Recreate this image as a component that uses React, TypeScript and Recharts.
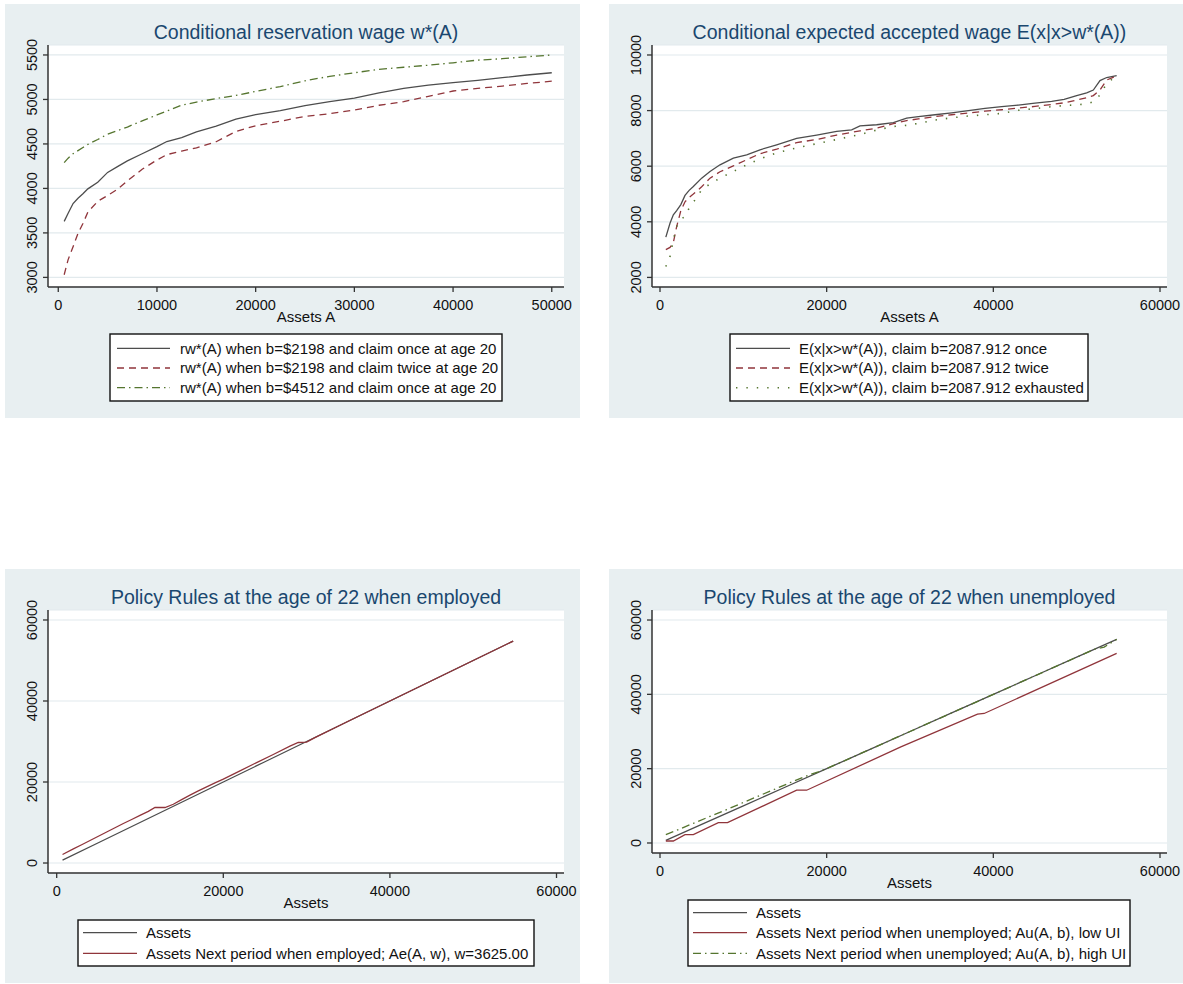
import React from 'react';
import { LineChart, Line, XAxis, YAxis, CartesianGrid } from 'recharts';

const FONT = '"Liberation Sans", Arial, Helvetica, sans-serif';
const NAVY = '#1a476f';
const PANEL_BG = '#e8eff1';
const GRID = '#e2eaed';
const AXIS = '#333333';
const DARK = '#4d4d4d';
const MAROON = '#90353b';
const GREEN = '#55752f';

// top-left: conditional reservation wage
const resAssets = [600, 1000, 1500, 2000, 2500, 3000, 4000, 5000, 6000, 7000, 8500, 10000, 11000, 12500, 14000, 16000, 18000, 20000, 22500, 25000, 27500, 30000, 32500, 35000, 37500, 40000, 42500, 45000, 47500, 50000];
const resOnce = [3630, 3720, 3830, 3890, 3940, 3995, 4070, 4180, 4245, 4310, 4390, 4470, 4527, 4572, 4635, 4700, 4780, 4830, 4875, 4930, 4975, 5015, 5075, 5125, 5160, 5190, 5215, 5245, 5275, 5300];
const resTwice = [3030, 3200, 3345, 3495, 3605, 3735, 3855, 3920, 3990, 4085, 4215, 4320, 4380, 4420, 4455, 4525, 4640, 4705, 4755, 4810, 4840, 4880, 4935, 4975, 5035, 5095, 5125, 5150, 5180, 5205];
const resHigh = [4290, 4340, 4390, 4425, 4460, 4495, 4550, 4610, 4650, 4690, 4760, 4826, 4870, 4935, 4970, 5010, 5045, 5090, 5145, 5210, 5260, 5300, 5338, 5362, 5385, 5412, 5442, 5458, 5480, 5500];

// top-right: conditional expected accepted wage
const wageAssets = [700, 1200, 1600, 2000, 2500, 3000, 3500, 4000, 5000, 6000, 7200, 8800, 10400, 12000, 14000, 16400, 18800, 21200, 23000, 24000, 26000, 28000, 29600, 31000, 33000, 35000, 37000, 39000, 41000, 43000, 45000, 47000, 48500, 50000, 51200, 52000, 52800, 53600, 54800];
const wageOnce = [3450, 3950, 4250, 4400, 4620, 4950, 5130, 5270, 5570, 5810, 6050, 6290, 6410, 6590, 6770, 7000, 7120, 7250, 7310, 7450, 7490, 7570, 7730, 7780, 7850, 7920, 8000, 8080, 8145, 8200, 8270, 8330, 8400, 8540, 8640, 8740, 9080, 9190, 9260];
const wageTwice = [3000, 3080, 3250, 3830, 4400, 4720, 4880, 5000, 5260, 5570, 5800, 6010, 6230, 6450, 6610, 6850, 6960, 7120, 7220, 7270, 7370, 7530, 7640, 7700, 7785, 7850, 7910, 7980, 8030, 8090, 8150, 8220, 8280, 8380, 8460, 8540, 8740, 9100, 9250];
const wageExhausted = [2390, 2750, 3350, 3830, 4090, 4190, 4500, 4700, 5150, 5360, 5570, 5810, 6050, 6260, 6480, 6660, 6810, 6960, 7080, 7140, 7300, 7430, 7470, 7540, 7660, 7740, 7805, 7850, 7900, 8010, 8070, 8140, 8180, 8210, 8240, 8320, 8560, 8980, 9250];

// bottom-left: policy rule when employed
const empAssetsX = [700, 5000, 10000, 15000, 20000, 25000, 30000, 35000, 40000, 45000, 50000, 54800];
const empAssetsY = [700, 5000, 10000, 15000, 20000, 25000, 30000, 35000, 40000, 45000, 50000, 54800];
const empNextX = [700, 2000, 3000, 4000, 5000, 6000, 7000, 8000, 9000, 10000, 11000, 11800, 13000, 14000, 15000, 16000, 17000, 18000, 19000, 20000, 22000, 24000, 26000, 28000, 29000, 30000, 31000, 35000, 40000, 45000, 50000, 54800];
const empNextY = [2100, 3500, 4500, 5550, 6600, 7650, 8700, 9750, 10750, 11750, 12750, 13700, 13700, 14500, 15650, 16750, 17800, 18800, 19800, 20700, 22750, 24800, 26800, 28850, 29750, 29850, 30950, 35000, 40000, 45000, 50000, 54800];

// bottom-right: policy rules when unemployed
const unAssetsX = [700, 5000, 10000, 15000, 20000, 25000, 30000, 35000, 40000, 45000, 50000, 54800];
const unAssetsY = [700, 5000, 10000, 15000, 20000, 25000, 30000, 35000, 40000, 45000, 50000, 54800];
const unLowX = [700, 1600, 3000, 4000, 7000, 8100, 16400, 17600, 28900, 38100, 38900, 54800];
const unLowY = [540, 540, 2260, 2260, 5500, 5500, 14200, 14200, 25860, 34670, 34850, 51000];
const unHighX = [700, 2000, 4000, 6000, 8000, 10000, 12000, 14000, 16000, 17500, 19000, 20000, 30000, 40000, 50000, 52200, 53300, 54800];
const unHighY = [2250, 3400, 5300, 7150, 9000, 10900, 12800, 14700, 16600, 18000, 19150, 20000, 30000, 40000, 50000, 52200, 52700, 54800];

const resTicksX = [0, 10000, 20000, 30000, 40000, 50000];
const resTicksY = [3000, 3500, 4000, 4500, 5000, 5500];
const wageTicksX = [0, 20000, 40000, 60000];
const wageTicksY = [2000, 4000, 6000, 8000, 10000];
const policyTicks = [0, 20000, 40000, 60000];

const resLegend = [
  'rw*(A) when b=$2198 and claim once at age 20',
  'rw*(A) when b=$2198 and claim twice at age 20',
  'rw*(A) when b=$4512 and claim once at age 20',
];
const wageLegend = [
  'E(x|x>w*(A)), claim b=2087.912 once',
  'E(x|x>w*(A)), claim b=2087.912 twice',
  'E(x|x>w*(A)), claim b=2087.912 exhausted',
];
const empLegend = ['Assets', 'Assets Next period when employed; Ae(A, w), w=3625.00'];
const unLegend = [
  'Assets',
  'Assets Next period when unemployed; Au(A, b), low UI',
  'Assets Next period when unemployed; Au(A, b), high UI',
];

const DASHED = '7 5';
const DASHDOT = '8 4 1.5 4';
const DOTTED = '1.4 9';

const pts = (xs: number[], ys: number[]) => xs.map((x, i) => ({ x, y: ys[i] }));

type Series = { name: string; data: { x: number; y: number }[]; color: string; dash?: string };

type PanelCfg = {
  bg: [number, number, number, number];
  chart: [number, number, number, number];
  margin: { top: number; right: number; bottom: number; left: number };
  yWidth: number;
  xHeight: number;
  xDomain: [number, number];
  yDomain: [number, number];
  xTicks: number[];
  yTicks: number[];
  title: string;
  titleY: number;
  xTitle: string;
  xTitleY: number;
  series: Series[];
  legendBox: [number, number, number, number];
  legendRows: number[];
  sampleX: [number, number];
  textX: number;
};

const panels: PanelCfg[] = [
  {
    bg: [5, 4, 575, 414],
    chart: [0, 0, 600, 330],
    margin: { top: 45, right: 36, bottom: 0, left: 0 },
    yWidth: 48,
    xHeight: 43,
    xDomain: [-1040, 51240],
    yDomain: [2892, 5612],
    xTicks: resTicksX,
    yTicks: resTicksY,
    title: 'Conditional reservation wage w*(A)',
    titleY: 38.5,
    xTitle: 'Assets A',
    xTitleY: 321.5,
    series: [
      { name: resLegend[0], data: pts(resAssets, resOnce), color: DARK },
      { name: resLegend[1], data: pts(resAssets, resTwice), color: MAROON, dash: DASHED },
      { name: resLegend[2], data: pts(resAssets, resHigh), color: GREEN, dash: DASHDOT },
    ],
    legendBox: [110, 334, 392, 67],
    legendRows: [348.3, 368, 387.7],
    sampleX: [117, 170],
    textX: 180,
  },
  {
    bg: [609, 4, 574, 414],
    chart: [600, 0, 583, 330],
    margin: { top: 45, right: 16, bottom: 0, left: 0 },
    yWidth: 52,
    xHeight: 43,
    xDomain: [-960, 60840],
    yDomain: [1655, 10359],
    xTicks: wageTicksX,
    yTicks: wageTicksY,
    title: 'Conditional expected accepted wage E(x|x>w*(A))',
    titleY: 38.5,
    xTitle: 'Assets A',
    xTitleY: 321.5,
    series: [
      { name: wageLegend[0], data: pts(wageAssets, wageOnce), color: DARK },
      { name: wageLegend[1], data: pts(wageAssets, wageTwice), color: MAROON, dash: DASHED },
      { name: wageLegend[2], data: pts(wageAssets, wageExhausted), color: GREEN, dash: DOTTED },
    ],
    legendBox: [730, 334, 358, 67],
    legendRows: [348.3, 368, 387.7],
    sampleX: [736, 790],
    textX: 799,
  },
  {
    bg: [5, 569, 575, 414],
    chart: [0, 560, 600, 340],
    margin: { top: 50, right: 36, bottom: 0, left: 0 },
    yWidth: 48,
    xHeight: 27,
    xDomain: [-1044, 60900],
    yDomain: [-2466, 62466],
    xTicks: policyTicks,
    yTicks: policyTicks,
    title: 'Policy Rules at the age of 22 when employed',
    titleY: 603.5,
    xTitle: 'Assets',
    xTitleY: 908,
    series: [
      { name: empLegend[0], data: pts(empAssetsX, empAssetsY), color: DARK },
      { name: empLegend[1], data: pts(empNextX, empNextY), color: MAROON },
    ],
    legendBox: [78, 920, 456, 46],
    legendRows: [932.7, 953.3],
    sampleX: [83, 137],
    textX: 146,
  },
  {
    bg: [609, 569, 574, 414],
    chart: [600, 560, 583, 330],
    margin: { top: 50, right: 16, bottom: 0, left: 0 },
    yWidth: 52,
    xHeight: 37,
    xDomain: [-960, 60840],
    yDomain: [-2694, 62694],
    xTicks: policyTicks,
    yTicks: policyTicks,
    title: 'Policy Rules at the age of 22 when unemployed',
    titleY: 603.5,
    xTitle: 'Assets',
    xTitleY: 888,
    series: [
      { name: unLegend[0], data: pts(unAssetsX, unAssetsY), color: DARK },
      { name: unLegend[1], data: pts(unLowX, unLowY), color: MAROON },
      { name: unLegend[2], data: pts(unHighX, unHighY), color: GREEN, dash: DASHDOT },
    ],
    legendBox: [688, 900, 442, 66],
    legendRows: [912.7, 932.7, 953.3],
    sampleX: [693, 747],
    textX: 756,
  },
];

const XTick = (props: any) => {
  const { x, y, payload } = props;
  return (
    <text x={x} y={y + 15.7} textAnchor="middle" fontSize={14.5} fontFamily={FONT} fill="#111">
      {payload.value}
    </text>
  );
};

const YTick = (props: any) => {
  const { x, y, payload } = props;
  const cx = x - 9.5;
  return (
    <text x={cx} y={y} dy={5.2} transform={`rotate(-90, ${cx}, ${y})`} textAnchor="middle" fontSize={14.5} fontFamily={FONT} fill="#111">
      {payload.value}
    </text>
  );
};

const PanelChart = ({ p }: { p: PanelCfg }) => {
  const [cl, ct, cw, ch] = p.chart;
  return (
    <div style={{ position: 'absolute', left: cl, top: ct, width: cw, height: ch }}>
      <LineChart width={cw} height={ch} margin={p.margin}>
        <CartesianGrid vertical={false} fill="#ffffff" stroke={GRID} strokeWidth={1.2} />
        <XAxis
          type="number"
          dataKey="x"
          domain={p.xDomain}
          allowDataOverflow
          ticks={p.xTicks}
          interval={0}
          height={p.xHeight}
          tick={XTick}
          tickSize={5}
          axisLine={{ stroke: AXIS, strokeWidth: 1.5 }}
          tickLine={{ stroke: AXIS, strokeWidth: 1.3 }}
        />
        <YAxis
          type="number"
          domain={p.yDomain}
          allowDataOverflow
          ticks={p.yTicks}
          interval={0}
          width={p.yWidth}
          tick={YTick}
          tickSize={5}
          axisLine={{ stroke: AXIS, strokeWidth: 1.5 }}
          tickLine={{ stroke: AXIS, strokeWidth: 1.3 }}
        />
        {p.series.map((s) => (
          <Line
            key={s.name}
            data={s.data}
            dataKey="y"
            type="linear"
            stroke={s.color}
            strokeWidth={s.dash === DOTTED ? 1.6 : 1.3}
            strokeDasharray={s.dash}
            dot={false}
            activeDot={false}
            isAnimationActive={false}
          />
        ))}
      </LineChart>
    </div>
  );
};

const PanelText = ({ p }: { p: PanelCfg }) => {
  const plotLeft = p.chart[0] + p.margin.left + p.yWidth;
  const plotRight = p.chart[0] + p.chart[2] - p.margin.right;
  const mid = (plotLeft + plotRight) / 2;
  const [lx, ly, lw, lh] = p.legendBox;
  return (
    <g fontFamily={FONT}>
      <text x={mid} y={p.titleY} textAnchor="middle" fontSize={19.5} fill={NAVY}>
        {p.title}
      </text>
      <text x={mid} y={p.xTitleY} textAnchor="middle" fontSize={15} fill="#111">
        {p.xTitle}
      </text>
      <rect x={lx} y={ly} width={lw} height={lh} fill="#fff" stroke="#111" strokeWidth={1.4} />
      {p.series.map((s, i) => (
        <g key={s.name}>
          <line
            x1={p.sampleX[0]}
            x2={p.sampleX[1]}
            y1={p.legendRows[i]}
            y2={p.legendRows[i]}
            stroke={s.color}
            strokeWidth={s.dash === DOTTED ? 1.6 : 1.3}
            strokeDasharray={s.dash}
          />
          <text x={p.textX} y={p.legendRows[i] + 5.3} fontSize={15} fill="#111">
            {s.name}
          </text>
        </g>
      ))}
    </g>
  );
};

export default function App() {
  return (
    <div style={{ position: 'absolute', left: 0, top: 0, width: 1183, height: 984, background: '#fff', overflow: 'hidden' }}>
      {panels.map((p, i) => (
        <div
          key={'bg' + i}
          style={{ position: 'absolute', left: p.bg[0], top: p.bg[1], width: p.bg[2], height: p.bg[3], background: PANEL_BG }}
        />
      ))}
      {panels.map((p, i) => (
        <PanelChart key={'c' + i} p={p} />
      ))}
      <svg width={1183} height={984} style={{ position: 'absolute', left: 0, top: 0, pointerEvents: 'none' }}>
        {panels.map((p, i) => (
          <PanelText key={'t' + i} p={p} />
        ))}
      </svg>
    </div>
  );
}
